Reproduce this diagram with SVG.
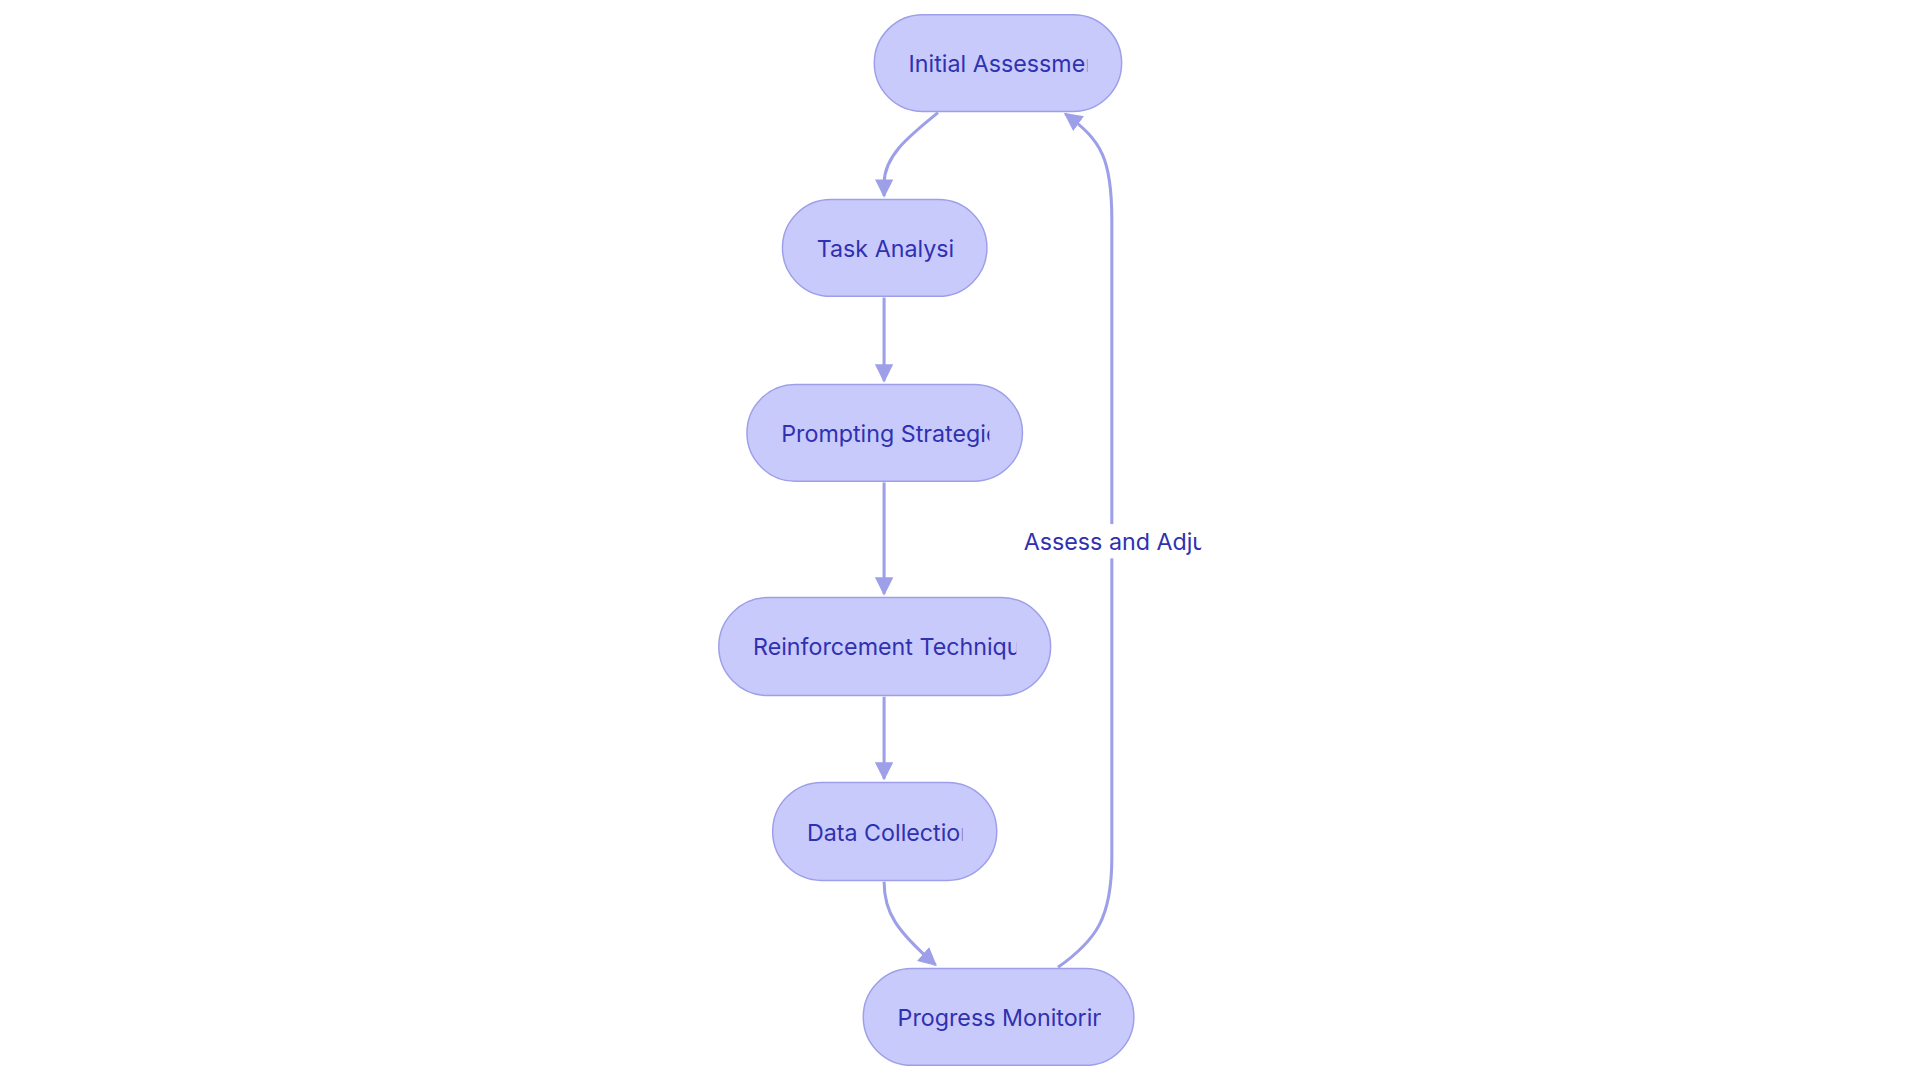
<svg xmlns="http://www.w3.org/2000/svg" width="1920" height="1080" viewBox="0 0 1920 1080">
<style>
.n rect{fill:#c9cafc;stroke:#9d9fe8;stroke-width:1.2}
.n text,.lbl{font-family:Inter,"Noto Sans",sans-serif;font-size:19px;fill:#2f31b0;text-anchor:middle;dominant-baseline:central}
.e{fill:none;stroke:#9d9fe8;stroke-width:2.5}
</style>
<defs>
<marker id="a" viewBox="0 0 10 10" refX="9" refY="5" markerWidth="6" markerHeight="6" orient="auto"><path d="M0,0L10,5L0,10z" fill="#9d9fe8"/></marker>
<clipPath id="c1"><rect x="730" y="12" width="158" height="80"/></clipPath>
<clipPath id="c2"><rect x="655" y="163" width="124" height="80"/></clipPath>
<clipPath id="c3"><rect x="626" y="314" width="182" height="80"/></clipPath>
<clipPath id="c4"><rect x="603" y="488" width="227" height="80"/></clipPath>
<clipPath id="c5"><rect x="647" y="639" width="139" height="80"/></clipPath>
<clipPath id="c6"><rect x="721" y="791" width="178" height="80"/></clipPath>
<clipPath id="c7"><rect x="830" y="425" width="151" height="34"/></clipPath>
</defs>
<rect width="1920" height="1080" fill="#fff"/>
<g transform="scale(1.2245)">
<g id="connectors">
<path class="e" d="M766,92 C740,113 722,128 722,150 L722,160" marker-end="url(#a)"/>
<path class="e" d="M722,243 L722,311" marker-end="url(#a)"/>
<path class="e" d="M722,394 L722,485" marker-end="url(#a)"/>
<path class="e" d="M722,569 L722,636" marker-end="url(#a)"/>
<path class="e" d="M722,720 C722,745 732,760 764,788" marker-end="url(#a)"/>
<path class="e" d="M864,790 C895,768 908,750 908,700 L908,180 C908,130 900,115 870,93" marker-end="url(#a)"/>
<rect x="836" y="428" width="145" height="28" fill="#fff"/>
<text class="lbl" x="908" y="442" clip-path="url(#c7)" style="text-anchor:start" dx="-72">Assess and Adjust</text>
</g>
<g id="n1" class="n"><rect x="714" y="12" width="202" height="79" rx="39.5"/><text x="730" y="52" style="text-anchor:start" dx="12" clip-path="url(#c1)">Initial Assessment</text></g>
<g id="n2" class="n"><rect x="639" y="163" width="167" height="79" rx="39.5"/><text x="667" y="203" style="text-anchor:start" clip-path="url(#c2)">Task Analysis</text></g>
<g id="n3" class="n"><rect x="610" y="314" width="225" height="79" rx="39.5"/><text x="638" y="354" style="text-anchor:start" clip-path="url(#c3)">Prompting Strategies</text></g>
<g id="n4" class="n"><rect x="587" y="488" width="271" height="80" rx="40"/><text x="615" y="528" style="text-anchor:start" clip-path="url(#c4)">Reinforcement Techniques</text></g>
<g id="n5" class="n"><rect x="631" y="639" width="183" height="80" rx="40"/><text x="659" y="680" style="text-anchor:start" clip-path="url(#c5)">Data Collection</text></g>
<g id="n6" class="n"><rect x="705" y="791" width="221" height="79" rx="39.5"/><text x="733" y="831" style="text-anchor:start" clip-path="url(#c6)">Progress Monitoring</text></g>
</g>
</svg>
